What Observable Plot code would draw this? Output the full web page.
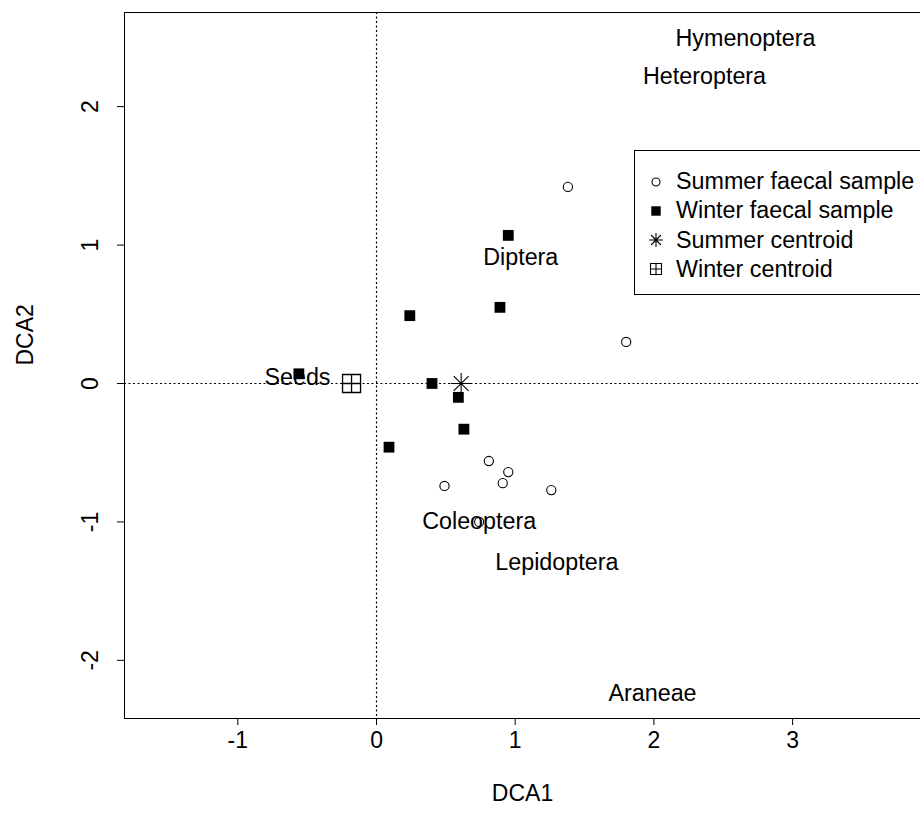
<!DOCTYPE html>
<html>
<head>
<meta charset="utf-8">
<script src="https://cdn.jsdelivr.net/npm/d3@7"></script>
<script src="https://cdn.jsdelivr.net/npm/@observablehq/plot@0.6"></script>
<style>
  html, body { margin: 0; padding: 0; background: #fff; }
  #wrap { position: relative; width: 920px; height: 832px; overflow: hidden; font-family: "Liberation Sans", Arial, sans-serif; }
  #legend { position: absolute; left: 634px; top: 150px; width: 320px; height: 145px; border: 1px solid #000; background: #fff; box-sizing: border-box; }
  .row { position: absolute; left: 0; height: 29px; display: flex; align-items: center; font-size: 23.3px; color: #000; white-space: nowrap; }
  .row svg { margin-left: 13px; margin-right: 12px; }
</style>
</head>
<body>
<div id="wrap"></div>
<script>
// Summer faecal samples (open circles)
const summerX = [1.38, 1.80, 0.81, 0.95, 0.91, 0.49, 1.26, 0.74];
const summerY = [1.42, 0.30, -0.56, -0.64, -0.72, -0.74, -0.77, -1.00];
// Winter faecal samples (filled squares)
const winterX = [-0.56, 0.24, 0.40, 0.59, 0.63, 0.09, 0.89, 0.95];
const winterY = [0.07, 0.49, 0.00, -0.10, -0.33, -0.46, 0.55, 1.07];
// Centroids
const summerCentroid = [0.61, 0.00];
const winterCentroid = [-0.18, 0.00];
// Species (diet category) scores
const speciesNames = ["Hymenoptera", "Heteroptera", "Diptera", "Seeds", "Coleoptera", "Lepidoptera", "Araneae"];
const speciesX = [2.66, 2.365, 1.04, -0.57, 0.74, 1.30, 1.99];
const speciesY = [2.49, 2.22, 0.91, 0.04, -1.00, -1.29, -2.24];
// Axis ticks
const xTicks = [-1, 0, 1, 2, 3];
const yTicks = [-2, -1, 0, 1, 2];
const legendLabels = ["Summer faecal sample", "Winter faecal sample", "Summer centroid", "Winter centroid"];

const summer = summerX.map((x, i) => ({x, y: summerY[i]}));
const winter = winterX.map((x, i) => ({x, y: winterY[i]}));
const species = speciesNames.map((name, i) => ({name, x: speciesX[i], y: speciesY[i]}));

// custom symbols
const star8 = {
  draw(ctx, size) {
    const r = Math.sqrt(size / Math.PI);
    const d = r * Math.SQRT1_2;
    ctx.moveTo(-r, 0); ctx.lineTo(r, 0);
    ctx.moveTo(0, -r); ctx.lineTo(0, r);
    ctx.moveTo(-d, -d); ctx.lineTo(d, d);
    ctx.moveTo(-d, d); ctx.lineTo(d, -d);
  }
};
const boxPlus = {
  draw(ctx, size) {
    const r = Math.sqrt(size / Math.PI);
    ctx.moveTo(-r, -r); ctx.lineTo(r, -r); ctx.lineTo(r, r); ctx.lineTo(-r, r); ctx.closePath();
    ctx.moveTo(-r, 0); ctx.lineTo(r, 0);
    ctx.moveTo(0, -r); ctx.lineTo(0, r);
  }
};

const font = "Liberation Sans, Arial, sans-serif";

const chart = Plot.plot({
  width: 920,
  height: 832,
  marginLeft: 124,
  marginRight: 0,
  marginTop: 12,
  marginBottom: 114,
  style: {fontFamily: font, fontSize: "23px", color: "#000", background: "#fff"},
  x: {domain: [-1.817, 3.922]},
  y: {domain: [-2.42, 2.68]},
  marks: [
    Plot.frame({anchor: "left", stroke: "#000"}),
    Plot.frame({anchor: "top", stroke: "#000"}),
    Plot.frame({anchor: "bottom", stroke: "#000"}),
    Plot.ruleX([0], {stroke: "#000", strokeDasharray: "2,2.5", strokeWidth: 1.2}),
    Plot.ruleY([0], {stroke: "#000", strokeDasharray: "2,2.5", strokeWidth: 1.2}),
    Plot.axisX({ticks: xTicks, tickSize: 7, tickPadding: 6, fontSize: 23, label: null, stroke: "#000", tickFormat: d => String(d)}),
    Plot.axisY({ticks: yTicks, tickSize: 7, label: null, stroke: "#000", tickFormat: () => ""}),
    Plot.text(yTicks, {y: d => d, text: d => String(d), frameAnchor: "left", dx: -34, rotate: -90, fontSize: 23, textAnchor: "middle", lineAnchor: "middle", fill: "#000"}),
    Plot.text(["DCA1"], {frameAnchor: "bottom", dy: 75, fontSize: 23, lineAnchor: "middle", fill: "#000"}),
    Plot.text(["DCA2"], {frameAnchor: "left", dx: -99, rotate: -90, fontSize: 23, lineAnchor: "middle", fill: "#000"}),
    Plot.text(species, {x: "x", y: "y", text: "name", fontSize: 23.3, lineAnchor: "middle", fill: "#000"}),
    Plot.dot(summer, {x: "x", y: "y", r: 4.6, symbol: "circle", stroke: "#000", fill: "none", strokeWidth: 1.1}),
    Plot.dot(winter, {x: "x", y: "y", r: 6.1, symbol: "square", fill: "#000", stroke: "none"}),
    Plot.dot([summerCentroid], {x: d => d[0], y: d => d[1], r: 10.5, symbol: star8, stroke: "#000", fill: "none", strokeWidth: 1.1}),
    Plot.dot([winterCentroid], {x: d => d[0], y: d => d[1], r: 9, symbol: boxPlus, stroke: "#000", fill: "none", strokeWidth: 1.3})
  ]
});

const wrap = document.getElementById("wrap");
wrap.appendChild(chart);

// legend
const legend = document.createElement("div");
legend.id = "legend";
const symbolsSvg = [
  '<svg width="16" height="16" viewBox="-8 -8 16 16"><circle r="4" fill="none" stroke="#000" stroke-width="1.1"/></svg>',
  '<svg width="16" height="16" viewBox="-8 -8 16 16"><rect x="-4.7" y="-4.7" width="9.4" height="9.4" fill="#000"/></svg>',
  '<svg width="16" height="16" viewBox="-8 -8 16 16"><path d="M-7,0H7M0,-7V7M-5,-5L5,5M-5,5L5,-5" stroke="#000" stroke-width="1.1" fill="none"/></svg>',
  '<svg width="16" height="16" viewBox="-8 -8 16 16"><path d="M-5.5,-5.5H5.5V5.5H-5.5ZM-5.5,0H5.5M0,-5.5V5.5" stroke="#000" stroke-width="1.1" fill="none"/></svg>'
];
legendLabels.forEach((lab, i) => {
  const row = document.createElement("div");
  row.className = "row";
  row.style.top = (16 + i * 29.3) + "px";
  row.innerHTML = symbolsSvg[i] + "<span>" + lab + "</span>";
  legend.appendChild(row);
});
wrap.appendChild(legend);
</script>
</body>
</html>
